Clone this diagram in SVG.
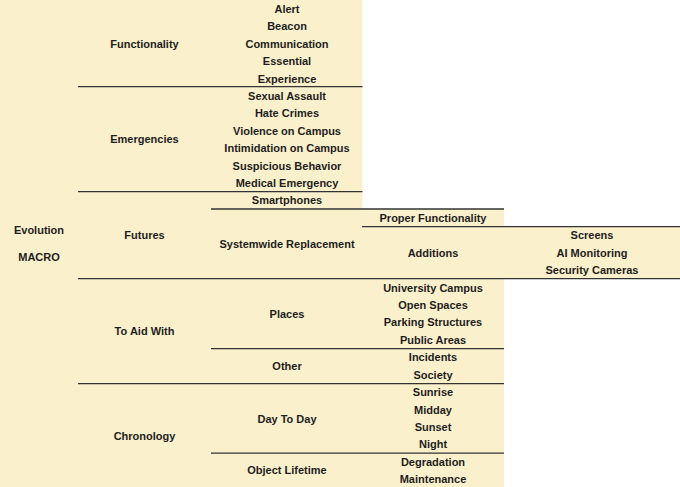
<svg xmlns="http://www.w3.org/2000/svg" width="680" height="487" viewBox="0 0 680 487">
<style>
.bg{fill:#FBF0CC}
.t{font-family:"Liberation Sans",Arial,Helvetica,sans-serif;font-size:11px;font-weight:bold;fill:#1e1e1e;text-anchor:middle}
.sep{stroke:#333;stroke-width:1.3;fill:none}
</style>
<rect width="680" height="487" fill="#fff"/>
<g id="background">
<rect class="bg" x="0" y="0" width="362.5" height="487"/>
<rect class="bg" x="362" y="209" width="142" height="278"/>
<rect class="bg" x="503" y="226.5" width="177" height="52.2"/>
</g>
<g id="connectors">
<line class="sep" x1="78" y1="86.6" x2="362.5" y2="86.6"/>
<line class="sep" x1="78" y1="191.6" x2="362.5" y2="191.6"/>
<line class="sep" x1="211" y1="209" x2="504" y2="209"/>
<line class="sep" x1="362" y1="226.6" x2="680" y2="226.6"/>
<line class="sep" x1="78" y1="278.7" x2="680" y2="278.7"/>
<line class="sep" x1="211" y1="348.6" x2="504" y2="348.6"/>
<line class="sep" x1="78" y1="383.6" x2="504" y2="383.6"/>
<line class="sep" x1="211" y1="453.1" x2="504" y2="453.1"/>
</g>
<g id="root"><text class="t" x="39" y="234">Evolution</text><text class="t" x="39" y="261">MACRO</text></g>
<g id="functionality"><text class="t" x="144.5" y="47.5">Functionality</text></g>
<g id="alert"><text class="t" x="287" y="12.8">Alert</text></g>
<g id="beacon"><text class="t" x="287" y="30.2">Beacon</text></g>
<g id="communication"><text class="t" x="287" y="47.6">Communication</text></g>
<g id="essential"><text class="t" x="287" y="65">Essential</text></g>
<g id="experience"><text class="t" x="287" y="82.5">Experience</text></g>
<g id="emergencies"><text class="t" x="144.5" y="143">Emergencies</text></g>
<g id="sexual-assault"><text class="t" x="287" y="99.9">Sexual Assault</text></g>
<g id="hate-crimes"><text class="t" x="287" y="117.3">Hate Crimes</text></g>
<g id="violence"><text class="t" x="287" y="134.7">Violence on Campus</text></g>
<g id="intimidation"><text class="t" x="287" y="152.2">Intimidation on Campus</text></g>
<g id="suspicious"><text class="t" x="287" y="169.6">Suspicious Behavior</text></g>
<g id="medical"><text class="t" x="287" y="187">Medical Emergency</text></g>
<g id="futures"><text class="t" x="144.5" y="239">Futures</text></g>
<g id="smartphones"><text class="t" x="287" y="204.4">Smartphones</text></g>
<g id="systemwide"><text class="t" x="287" y="248">Systemwide Replacement</text></g>
<g id="proper-functionality"><text class="t" x="433" y="221.9">Proper Functionality</text></g>
<g id="additions"><text class="t" x="433" y="257">Additions</text></g>
<g id="screens"><text class="t" x="592" y="239.3">Screens</text></g>
<g id="ai-monitoring"><text class="t" x="592" y="256.7">AI Monitoring</text></g>
<g id="security-cameras"><text class="t" x="592" y="274.1">Security Cameras</text></g>
<g id="to-aid-with"><text class="t" x="144.5" y="335">To Aid With</text></g>
<g id="places"><text class="t" x="287" y="318">Places</text></g>
<g id="university-campus"><text class="t" x="433" y="291.6">University Campus</text></g>
<g id="open-spaces"><text class="t" x="433" y="309">Open Spaces</text></g>
<g id="parking"><text class="t" x="433" y="326.4">Parking Structures</text></g>
<g id="public-areas"><text class="t" x="433" y="343.8">Public Areas</text></g>
<g id="other"><text class="t" x="287" y="370">Other</text></g>
<g id="incidents"><text class="t" x="433" y="361.3">Incidents</text></g>
<g id="society"><text class="t" x="433" y="378.7">Society</text></g>
<g id="chronology"><text class="t" x="144.5" y="440">Chronology</text></g>
<g id="day-to-day"><text class="t" x="287" y="423">Day To Day</text></g>
<g id="sunrise"><text class="t" x="433" y="396.1">Sunrise</text></g>
<g id="midday"><text class="t" x="433" y="413.5">Midday</text></g>
<g id="sunset"><text class="t" x="433" y="431">Sunset</text></g>
<g id="night"><text class="t" x="433" y="448.4">Night</text></g>
<g id="object-lifetime"><text class="t" x="287" y="474">Object Lifetime</text></g>
<g id="degradation"><text class="t" x="433" y="465.9">Degradation</text></g>
<g id="maintenance"><text class="t" x="433" y="483.3">Maintenance</text></g>
</svg>
